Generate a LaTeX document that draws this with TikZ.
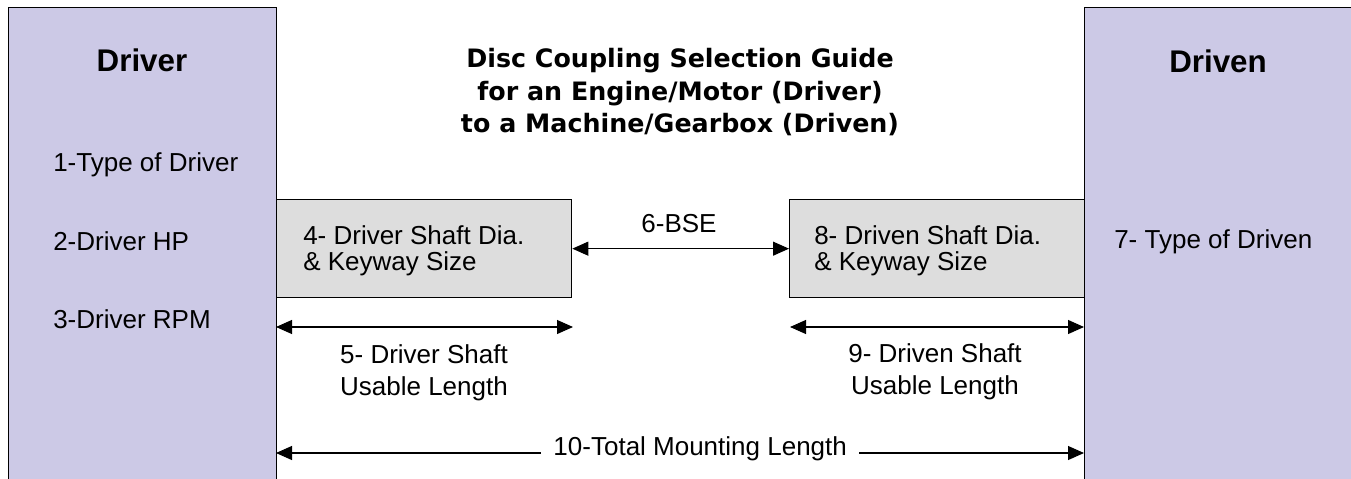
\documentclass[tikz,border=0pt]{standalone}
\usepackage{fontspec}
\setmainfont{Liberation Sans}
\newfontfamily\titlefont{DejaVu Sans}
\usetikzlibrary{positioning,arrows.meta}

\definecolor{sidefill}{RGB}{204,201,230}
\definecolor{shaftfill}{RGB}{221,221,221}

\tikzset{
  sidebox/.style={draw, line width=1pt, fill=sidefill, anchor=north west,
    minimum height=372pt, inner sep=0pt},
  shaftbox/.style={draw, line width=1pt, fill=shaftfill, anchor=north west,
    minimum width=221.25pt, minimum height=73.5pt, inner sep=0pt},
  dimline/.style={line width=0.8pt,
    {Triangle[length=12pt,width=10.5pt]}-{Triangle[length=12pt,width=10.5pt]}},
  txt/.style={font=\fontsize{19.5}{19.5}\selectfont, inner sep=0pt},
  head/.style={font=\fontsize{23.5}{28}\selectfont\bfseries, inner sep=0pt},
  title/.style={font=\fontsize{19}{24}\selectfont\titlefont\bfseries, inner sep=0pt, align=center}
}

\begin{document}
\begin{tikzpicture}[x=0.75pt, y=-0.75pt]
    \useasboundingbox (0,0) rectangle (1351,478);
    \clip (0,0) rectangle (1351,478);

    % the two machines
    \node [sidebox, minimum width=201pt] (driver) at (8,7) {};
    \node [sidebox, minimum width=211pt] (driven) at (1084,7) {};

    % the two shafts
    \node [shaftbox] (drvshaft) at (276,199) {};
    \node [shaftbox] (dvnshaft) at (789,199) {};

    \node [head, anchor=base] (drvhead) at (142,71) {Driver};
    \node [txt, anchor=base west] (drv1) at (53,171) {1-Type of Driver};
    \node [txt, anchor=base west] (drv2) at (53,250) {2-Driver HP};
    \node [txt, anchor=base west] (drv3) at (53,328) {3-Driver RPM};

    \node [head, anchor=base] (dvnhead) at (1218,73) {Driven};
    \node [txt, anchor=base west] (dvn7) at (1114,248) {7- Type of Driven};

    % base of a multi-line node is its last line
    \node [title, anchor=base] (guide) at (680,132)
      {Disc Coupling Selection Guide\\for an Engine/Motor (Driver)\\to a Machine/Gearbox (Driven)};

    \node [txt, align=left, anchor=base west] (drvdia) at (303,270) {4- Driver Shaft Dia.\\\& Keyway Size};
    \node [txt, align=left, anchor=base west] (dvndia) at (814,270) {8- Driven Shaft Dia.\\\& Keyway Size};

    % lengths
    \coordinate (len5a) at (276,327);
    \coordinate (len5b) at (573,327);
    \coordinate (len9a) at (790,327);
    \coordinate (len9b) at (1084,327);
    \coordinate (tota) at (276,453);
    \coordinate (totb) at (1084,453);

    \draw [dimline] (drvshaft.east) -- (dvnshaft.west);
    \node [txt, anchor=base] (bse) at (679,232) {6-BSE};

    \draw [dimline] (len5a) -- (len5b);
    \node [txt, align=center, anchor=base, font=\fontsize{19.5}{24}\selectfont] (drvlen) at (424,395) {5- Driver Shaft\\Usable Length};

    \draw [dimline] (len9a) -- (len9b);
    \node [txt, align=center, anchor=base, font=\fontsize{19.5}{24}\selectfont] (dvnlen) at (935,394) {9- Driven Shaft\\Usable Length};

    \draw [dimline] (tota) -- (totb)
      node [txt, fill=white, inner xsep=9pt, pos=0.525, yshift=3.4pt] (totlen) {10-Total Mounting Length};
\end{tikzpicture}
\end{document}
